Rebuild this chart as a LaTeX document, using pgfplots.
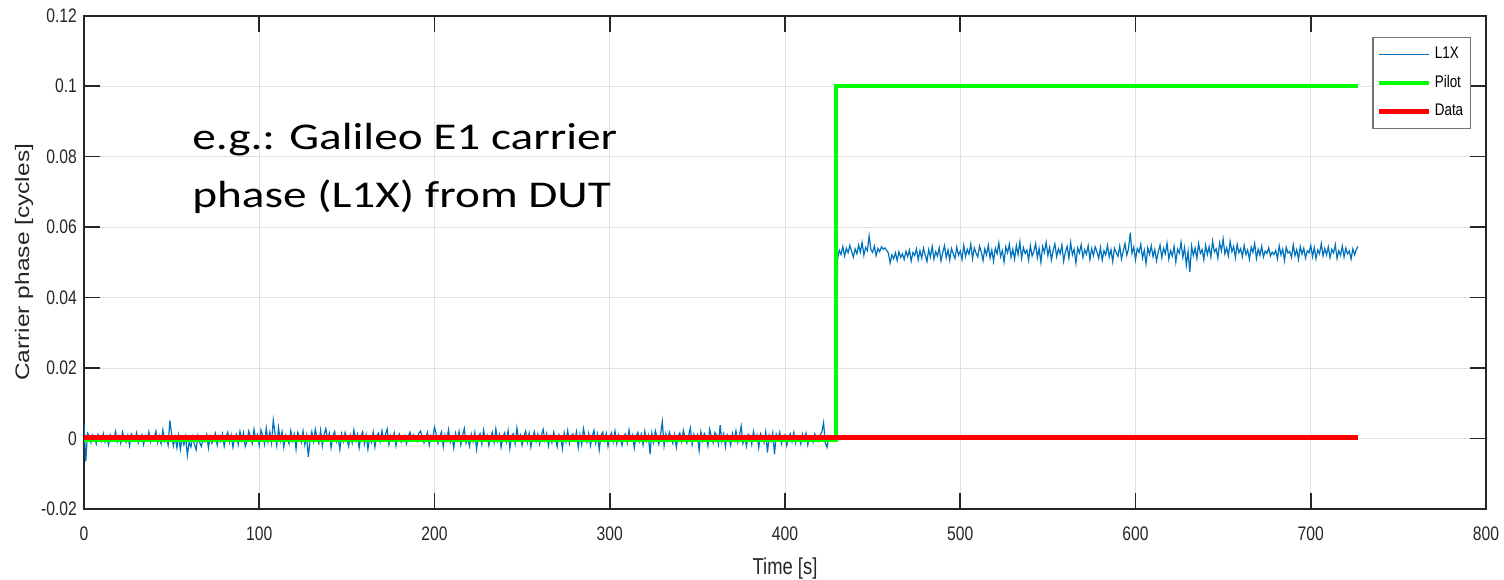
\documentclass[border=0pt]{standalone}
\usepackage{fontspec}
\setmainfont{Liberation Sans}[FakeStretch=0.8]
\newfontfamily\ylfont{Liberation Sans}[FakeStretch=1.25]
\newfontfamily\notefont{Carlito}[FakeStretch=1.25]
\usepackage{pgfplots}
\usepackage{pgfplotstable}
\pgfplotsset{compat=1.18}
\definecolor{mblue}{rgb}{0,0.447,0.741}
\definecolor{mgray}{rgb}{0.15,0.15,0.15}

% L1X carrier phase, one sample per second, t = 0 ... 727 s
\pgfplotstableread[row sep=\\,header=false]{
0.0040\\ -0.0065\\ 0.0015\\ 0.0008\\ -0.0012\\ 0.0010\\ 0.0002\\ -0.0015\\ 0.0012\\ 0.0004\\
-0.0008\\ 0.0014\\ -0.0010\\ 0.0006\\ -0.0018\\ 0.0011\\ 0.0003\\ -0.0006\\ 0.0020\\ -0.0009\\
0.0007\\ -0.0014\\ 0.0018\\ 0.0001\\ -0.0011\\ 0.0009\\ -0.0020\\ 0.0013\\ 0.0005\\ -0.0007\\
0.0016\\ -0.0013\\ 0.0002\\ 0.0011\\ -0.0017\\ 0.0008\\ -0.0004\\ 0.0019\\ -0.0010\\ 0.0006\\
0.0001\\ 0.0021\\ -0.0012\\ 0.0007\\ -0.0015\\ 0.0024\\ -0.0008\\ 0.0003\\ -0.0019\\ 0.0051\\
0.0012\\ -0.0021\\ 0.0004\\ -0.0026\\ 0.0009\\ -0.0031\\ 0.0002\\ -0.0018\\ 0.0006\\ -0.0048\\
-0.0010\\ -0.0024\\ 0.0005\\ -0.0016\\ -0.0032\\ 0.0008\\ -0.0012\\ -0.0022\\ 0.0003\\ -0.0009\\
0.0011\\ -0.0027\\ 0.0006\\ -0.0014\\ 0.0002\\ 0.0015\\ -0.0019\\ 0.0007\\ -0.0008\\ 0.0013\\
-0.0022\\ 0.0004\\ 0.0018\\ -0.0011\\ 0.0009\\ -0.0025\\ 0.0003\\ 0.0012\\ -0.0017\\ 0.0020\\
-0.0006\\ 0.0016\\ -0.0023\\ -0.0008\\ 0.0021\\ 0.0005\\ -0.0014\\ 0.0026\\ -0.0003\\ 0.0011\\
-0.0019\\ 0.0024\\ 0.0008\\ -0.0016\\ 0.0029\\ -0.0009\\ 0.0018\\ -0.0012\\ 0.0052\\ 0.0014\\
-0.0020\\ 0.0031\\ -0.0007\\ 0.0019\\ -0.0024\\ 0.0010\\ 0.0003\\ -0.0015\\ 0.0022\\ -0.0006\\
0.0012\\ -0.0030\\ 0.0017\\ 0.0004\\ -0.0011\\ 0.0021\\ -0.0018\\ 0.0008\\ -0.0052\\ -0.0005\\
0.0019\\ -0.0009\\ 0.0026\\ 0.0002\\ -0.0014\\ 0.0023\\ -0.0021\\ 0.0011\\ 0.0028\\ -0.0003\\
0.0015\\ -0.0026\\ 0.0007\\ 0.0020\\ -0.0010\\ 0.0004\\ -0.0031\\ 0.0013\\ -0.0008\\ 0.0017\\
0.0001\\ -0.0022\\ 0.0009\\ -0.0013\\ 0.0024\\ -0.0005\\ 0.0012\\ -0.0027\\ 0.0006\\ 0.0019\\
-0.0016\\ 0.0010\\ -0.0030\\ 0.0003\\ -0.0011\\ 0.0018\\ -0.0024\\ 0.0007\\ 0.0015\\ -0.0009\\
0.0022\\ -0.0004\\ 0.0011\\ 0.0027\\ -0.0017\\ 0.0008\\ -0.0006\\ 0.0016\\ -0.0021\\ 0.0005\\
0.0013\\ -0.0010\\ 0.0002\\ 0.0009\\ -0.0015\\ 0.0006\\ 0.0018\\ -0.0002\\ 0.0011\\ 0.0004\\
-0.0008\\ 0.0014\\ 0.0021\\ 0.0007\\ -0.0012\\ 0.0003\\ 0.0017\\ -0.0019\\ 0.0009\\ 0.0001\\
0.0032\\ 0.0012\\ -0.0014\\ 0.0006\\ 0.0019\\ -0.0023\\ 0.0010\\ -0.0007\\ 0.0025\\ -0.0011\\
0.0004\\ -0.0027\\ 0.0015\\ -0.0005\\ 0.0020\\ -0.0018\\ 0.0008\\ 0.0028\\ -0.0013\\ 0.0002\\
-0.0022\\ 0.0012\\ -0.0009\\ 0.0017\\ -0.0030\\ 0.0006\\ 0.0014\\ -0.0016\\ 0.0024\\ -0.0004\\
0.0009\\ -0.0020\\ 0.0003\\ 0.0018\\ -0.0012\\ 0.0027\\ -0.0007\\ 0.0011\\ -0.0025\\ 0.0005\\
0.0016\\ -0.0010\\ 0.0022\\ -0.0028\\ 0.0008\\ 0.0013\\ -0.0015\\ 0.0030\\ -0.0003\\ 0.0010\\
-0.0019\\ 0.0006\\ 0.0021\\ -0.0011\\ 0.0015\\ -0.0024\\ 0.0002\\ 0.0019\\ -0.0008\\ 0.0012\\
-0.0016\\ 0.0009\\ 0.0026\\ -0.0006\\ 0.0014\\ -0.0021\\ 0.0007\\ -0.0012\\ 0.0018\\ 0.0001\\
-0.0023\\ 0.0011\\ 0.0004\\ -0.0029\\ 0.0016\\ -0.0009\\ 0.0022\\ -0.0014\\ 0.0008\\ 0.0013\\
-0.0005\\ 0.0019\\ -0.0026\\ 0.0010\\ -0.0017\\ 0.0028\\ 0.0003\\ -0.0011\\ 0.0015\\ -0.0020\\
0.0007\\ 0.0023\\ -0.0013\\ 0.0012\\ -0.0032\\ 0.0009\\ 0.0018\\ -0.0006\\ 0.0014\\ -0.0022\\
0.0005\\ 0.0016\\ -0.0009\\ 0.0021\\ -0.0015\\ 0.0011\\ 0.0002\\ -0.0019\\ 0.0008\\ 0.0013\\
-0.0012\\ 0.0024\\ -0.0004\\ 0.0010\\ -0.0027\\ 0.0006\\ 0.0017\\ -0.0008\\ 0.0012\\ -0.0018\\
0.0020\\ -0.0007\\ 0.0009\\ -0.0044\\ 0.0015\\ -0.0011\\ 0.0022\\ 0.0004\\ -0.0016\\ 0.0010\\
0.0048\\ -0.0021\\ 0.0013\\ -0.0006\\ 0.0018\\ 0.0003\\ -0.0014\\ 0.0011\\ -0.0025\\ 0.0007\\
0.0016\\ -0.0009\\ 0.0023\\ 0.0001\\ -0.0013\\ 0.0008\\ 0.0030\\ -0.0017\\ 0.0012\\ -0.0004\\
0.0010\\ -0.0034\\ 0.0019\\ -0.0007\\ 0.0014\\ 0.0005\\ -0.0021\\ 0.0026\\ 0.0006\\ -0.0012\\
0.0017\\ 0.0009\\ -0.0016\\ 0.0038\\ -0.0008\\ 0.0013\\ -0.0024\\ 0.0011\\ 0.0002\\ -0.0019\\
0.0015\\ -0.0005\\ 0.0022\\ -0.0011\\ 0.0008\\ 0.0035\\ -0.0014\\ 0.0004\\ -0.0022\\ 0.0012\\
0.0007\\ -0.0017\\ 0.0020\\ -0.0003\\ 0.0010\\ -0.0026\\ 0.0014\\ 0.0005\\ -0.0012\\ 0.0019\\
-0.0040\\ 0.0009\\ -0.0008\\ 0.0016\\ -0.0045\\ 0.0012\\ -0.0002\\ 0.0018\\ -0.0015\\ 0.0006\\
0.0011\\ -0.0020\\ 0.0004\\ 0.0014\\ -0.0009\\ 0.0017\\ -0.0013\\ 0.0008\\ 0.0002\\ -0.0016\\
0.0012\\ -0.0006\\ 0.0015\\ -0.0018\\ 0.0007\\ 0.0003\\ -0.0011\\ 0.0013\\ 0.0001\\ -0.0008\\
0.0009\\ 0.0018\\ 0.0045\\ -0.0012\\ -0.0025\\ 0.0006\\ -0.0004\\ 0.0002\\ 0.0005\\ 0.0003\\
0.0510\\ 0.0534\\ 0.0522\\ 0.0545\\ 0.0518\\ 0.0540\\ 0.0527\\ 0.0548\\ 0.0531\\ 0.0515\\
0.0538\\ 0.0524\\ 0.0549\\ 0.0529\\ 0.0556\\ 0.0520\\ 0.0542\\ 0.0533\\ 0.0575\\ 0.0536\\
0.0528\\ 0.0546\\ 0.0519\\ 0.0539\\ 0.0530\\ 0.0544\\ 0.0537\\ 0.0541\\ 0.0534\\ 0.0526\\
0.0498\\ 0.0521\\ 0.0510\\ 0.0527\\ 0.0505\\ 0.0530\\ 0.0514\\ 0.0524\\ 0.0508\\ 0.0531\\
0.0516\\ 0.0535\\ 0.0503\\ 0.0528\\ 0.0519\\ 0.0538\\ 0.0507\\ 0.0533\\ 0.0512\\ 0.0540\\
0.0521\\ 0.0502\\ 0.0536\\ 0.0515\\ 0.0545\\ 0.0509\\ 0.0530\\ 0.0518\\ 0.0541\\ 0.0504\\
0.0527\\ 0.0547\\ 0.0513\\ 0.0535\\ 0.0506\\ 0.0539\\ 0.0524\\ 0.0511\\ 0.0543\\ 0.0520\\
0.0532\\ 0.0508\\ 0.0548\\ 0.0517\\ 0.0537\\ 0.0523\\ 0.0552\\ 0.0510\\ 0.0541\\ 0.0526\\
0.0515\\ 0.0546\\ 0.0529\\ 0.0505\\ 0.0538\\ 0.0521\\ 0.0549\\ 0.0512\\ 0.0535\\ 0.0503\\
0.0540\\ 0.0524\\ 0.0555\\ 0.0516\\ 0.0533\\ 0.0501\\ 0.0544\\ 0.0527\\ 0.0551\\ 0.0514\\
0.0537\\ 0.0509\\ 0.0548\\ 0.0522\\ 0.0558\\ 0.0511\\ 0.0542\\ 0.0525\\ 0.0535\\ 0.0506\\
0.0547\\ 0.0518\\ 0.0531\\ 0.0553\\ 0.0513\\ 0.0539\\ 0.0500\\ 0.0545\\ 0.0528\\ 0.0557\\
0.0519\\ 0.0543\\ 0.0507\\ 0.0534\\ 0.0552\\ 0.0516\\ 0.0538\\ 0.0524\\ 0.0549\\ 0.0503\\
0.0529\\ 0.0545\\ 0.0512\\ 0.0556\\ 0.0521\\ 0.0537\\ 0.0498\\ 0.0541\\ 0.0526\\ 0.0550\\
0.0514\\ 0.0535\\ 0.0523\\ 0.0547\\ 0.0508\\ 0.0539\\ 0.0519\\ 0.0544\\ 0.0530\\ 0.0511\\
0.0542\\ 0.0506\\ 0.0533\\ 0.0521\\ 0.0548\\ 0.0515\\ 0.0536\\ 0.0502\\ 0.0540\\ 0.0527\\
0.0517\\ 0.0546\\ 0.0509\\ 0.0532\\ 0.0553\\ 0.0520\\ 0.0538\\ 0.0584\\ 0.0525\\ 0.0543\\
0.0507\\ 0.0539\\ 0.0528\\ 0.0551\\ 0.0512\\ 0.0534\\ 0.0496\\ 0.0541\\ 0.0522\\ 0.0547\\
0.0516\\ 0.0536\\ 0.0504\\ 0.0530\\ 0.0549\\ 0.0513\\ 0.0540\\ 0.0524\\ 0.0554\\ 0.0509\\
0.0533\\ 0.0518\\ 0.0545\\ 0.0501\\ 0.0537\\ 0.0526\\ 0.0557\\ 0.0514\\ 0.0542\\ 0.0492\\
0.0531\\ 0.0472\\ 0.0546\\ 0.0519\\ 0.0540\\ 0.0511\\ 0.0553\\ 0.0525\\ 0.0536\\ 0.0507\\
0.0548\\ 0.0522\\ 0.0544\\ 0.0515\\ 0.0560\\ 0.0529\\ 0.0538\\ 0.0512\\ 0.0555\\ 0.0533\\
0.0566\\ 0.0524\\ 0.0541\\ 0.0518\\ 0.0559\\ 0.0530\\ 0.0545\\ 0.0513\\ 0.0551\\ 0.0527\\
0.0539\\ 0.0516\\ 0.0548\\ 0.0522\\ 0.0535\\ 0.0509\\ 0.0543\\ 0.0528\\ 0.0554\\ 0.0511\\
0.0537\\ 0.0520\\ 0.0546\\ 0.0515\\ 0.0532\\ 0.0525\\ 0.0541\\ 0.0518\\ 0.0529\\ 0.0522\\
0.0534\\ 0.0510\\ 0.0547\\ 0.0521\\ 0.0538\\ 0.0505\\ 0.0543\\ 0.0526\\ 0.0531\\ 0.0514\\
0.0550\\ 0.0519\\ 0.0536\\ 0.0508\\ 0.0545\\ 0.0523\\ 0.0540\\ 0.0512\\ 0.0533\\ 0.0527\\
0.0548\\ 0.0516\\ 0.0542\\ 0.0510\\ 0.0535\\ 0.0524\\ 0.0553\\ 0.0518\\ 0.0539\\ 0.0521\\
0.0544\\ 0.0513\\ 0.0537\\ 0.0526\\ 0.0550\\ 0.0511\\ 0.0533\\ 0.0520\\ 0.0546\\ 0.0515\\
0.0540\\ 0.0524\\ 0.0532\\ 0.0509\\ 0.0538\\ 0.0521\\ 0.0536\\ 0.0545\\
}\lonex

\begin{document}
\begin{tikzpicture}
\begin{axis}[
  name=ax,
  scale only axis,
  width=701pt, height=246.7pt,
  xmin=0, xmax=800,
  ymin=-0.02, ymax=0.12,
  xtick={0,100,...,800},
  ytick={-0.02,0,0.02,0.04,0.06,0.08,0.1,0.12},
  /pgf/number format/assume math mode=true,
  /pgf/number format/fixed,
  /pgf/number format/precision=2,
  tick align=inside,
  major tick length=8pt,
  axis line style={mgray, line width=1pt},
  every tick/.style={mgray, line width=0.9pt},
  grid=major,
  major grid style={black!12, line width=0.5pt},
  tick label style={font=\fontsize{9.8}{11}\selectfont, text=mgray},
  xticklabel style={yshift=-5.5pt},
  xlabel={Time [s]},
  ylabel={Carrier phase [cycles]},
  xlabel style={at={(axis description cs:0.5,0)}, anchor=base, yshift=-33pt,
    font=\fontsize{11.5}{13}\selectfont, text=mgray},
  ylabel style={at={(axis description cs:0,0.5)}, anchor=center, yshift=30pt,
    font=\ylfont\fontsize{9.8}{11}\selectfont, text=mgray},
  legend cell align=left,
  legend style={at={(axis description cs:1,1)}, anchor=north east,
    xshift=-7.5pt, yshift=-10.7pt, draw=black!55, line width=0.6pt,
    font=\fontsize{8.4}{10}\selectfont, inner xsep=2pt, inner ysep=3pt,
    row sep=3.6pt,
    nodes={inner sep=1.6pt, text height=6pt, text depth=1.5pt}},
  legend image code/.code={\draw[#1] (0pt,0pt) -- (25pt,0pt);},
]
\addplot[color=mblue, line width=0.6pt] table[x expr=\coordindex, y index=0] {\lonex};
\addlegendentry{L1X}
\addplot[color=green, line width=2pt] coordinates {(0,-0.0005) (429,-0.0005) (429,0.1) (727,0.1)};
\addlegendentry{Pilot}
\addplot[color=red, line width=2.3pt] coordinates {(0,0.0003) (727,0.0003)};
\addlegendentry{Data}
\node[anchor=base west, inner sep=0, font=\notefont\fontsize{18.9}{22}\selectfont]
  at (axis cs:61.6,0.0821) {e.g.: Galileo E1 carrier};
\node[anchor=base west, inner sep=0, font=\notefont\fontsize{18.9}{22}\selectfont]
  at (axis cs:61.6,0.0656) {phase (L1X) from DUT};
\end{axis}
\pgfresetboundingbox
\path ([shift={(-42pt,-35.5pt)}]ax.south west) rectangle ([shift={(9pt,7.8pt)}]ax.north east);
\end{tikzpicture}
\end{document}
